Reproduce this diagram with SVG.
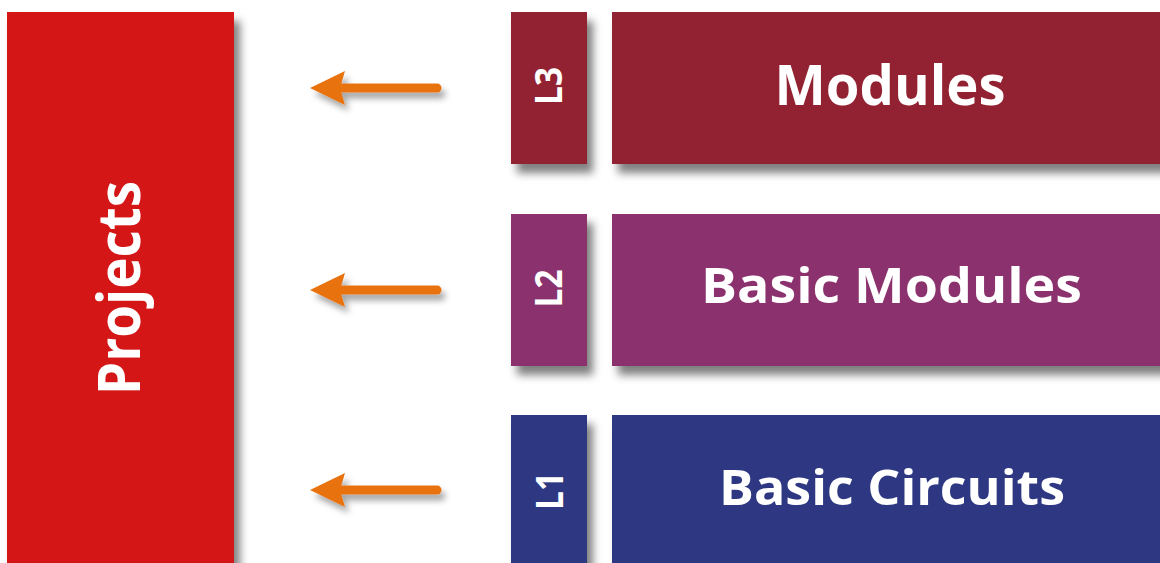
<svg xmlns="http://www.w3.org/2000/svg" width="1160" height="563" viewBox="0 0 1160 563">
  <defs>
    <filter id="shadow" x="-20%" y="-20%" width="150%" height="150%">
      <feGaussianBlur in="SourceAlpha" stdDeviation="4.5"/>
      <feOffset dx="6" dy="9" result="blur"/>
      <feFlood flood-color="#000" flood-opacity="0.5"/>
      <feComposite in2="blur" operator="in"/>
      <feMerge>
        <feMergeNode/>
        <feMergeNode in="SourceGraphic"/>
      </feMerge>
    </filter>
    <filter id="arrowShadow" x="-30%" y="-60%" width="160%" height="220%">
      <feGaussianBlur in="SourceAlpha" stdDeviation="3"/>
      <feOffset dx="4" dy="6" result="blur"/>
      <feFlood flood-color="#000" flood-opacity="0.35"/>
      <feComposite in2="blur" operator="in"/>
      <feMerge>
        <feMergeNode/>
        <feMergeNode in="SourceGraphic"/>
      </feMerge>
    </filter>
    <g id="arrow">
      <line x1="342" y1="0" x2="437" y2="0" stroke="#E8720F" stroke-width="9" stroke-linecap="round"/>
      <polygon points="310,0 345,-17 340,0 345,17" fill="#E8720F"/>
    </g>
  </defs>
  <style>
    .lbl { font-family: "Open Sans", "Liberation Sans", sans-serif; font-weight: 700; fill: #fff; text-anchor: middle; }
    .big { font-size: 49px; }
    .lvl { font-size: 38px; }
  </style>

  <rect width="1160" height="563" fill="#fff"/>

  <g id="projects">
    <rect x="7" y="12" width="227" height="570" fill="#D51317" filter="url(#shadow)"/>
    <text class="lbl" font-size="59" transform="translate(140,288) rotate(-90)" x="0" y="0" textLength="214" lengthAdjust="spacingAndGlyphs">Projects</text>
  </g>

  <g id="connectors" filter="url(#arrowShadow)">
    <use href="#arrow" y="88"/>
    <use href="#arrow" y="290"/>
    <use href="#arrow" y="490"/>
  </g>

  <g id="l3">
    <rect x="511" y="12" width="76" height="152" fill="#922331" filter="url(#shadow)"/>
    <text class="lbl lvl" transform="translate(562,86) rotate(-90)" textLength="38" lengthAdjust="spacingAndGlyphs">L3</text>
  </g>
  <g id="modules">
    <rect x="612" y="12" width="560" height="152" fill="#922331" filter="url(#shadow)"/>
    <text class="lbl" font-size="56" x="890" y="105" textLength="231" lengthAdjust="spacingAndGlyphs">Modules</text>
  </g>

  <g id="l2">
    <rect x="511" y="214" width="76" height="152" fill="#8B316E" filter="url(#shadow)"/>
    <text class="lbl lvl" transform="translate(562,288.5) rotate(-90)" textLength="38" lengthAdjust="spacingAndGlyphs">L2</text>
  </g>
  <g id="basic-modules">
    <rect x="612" y="214" width="560" height="152" fill="#8B316E" filter="url(#shadow)"/>
    <text class="lbl big" x="891.5" y="303" textLength="381" lengthAdjust="spacingAndGlyphs">Basic Modules</text>
  </g>

  <g id="l1">
    <rect x="511" y="415" width="76" height="160" fill="#2E3882" filter="url(#shadow)"/>
    <text class="lbl lvl" transform="translate(563,491) rotate(-90)" textLength="38" lengthAdjust="spacingAndGlyphs">L1</text>
  </g>
  <g id="basic-circuits">
    <rect x="612" y="415" width="560" height="160" fill="#2E3882" filter="url(#shadow)"/>
    <text class="lbl big" x="892" y="505" textLength="346" lengthAdjust="spacingAndGlyphs">Basic Circuits</text>
  </g>
</svg>
